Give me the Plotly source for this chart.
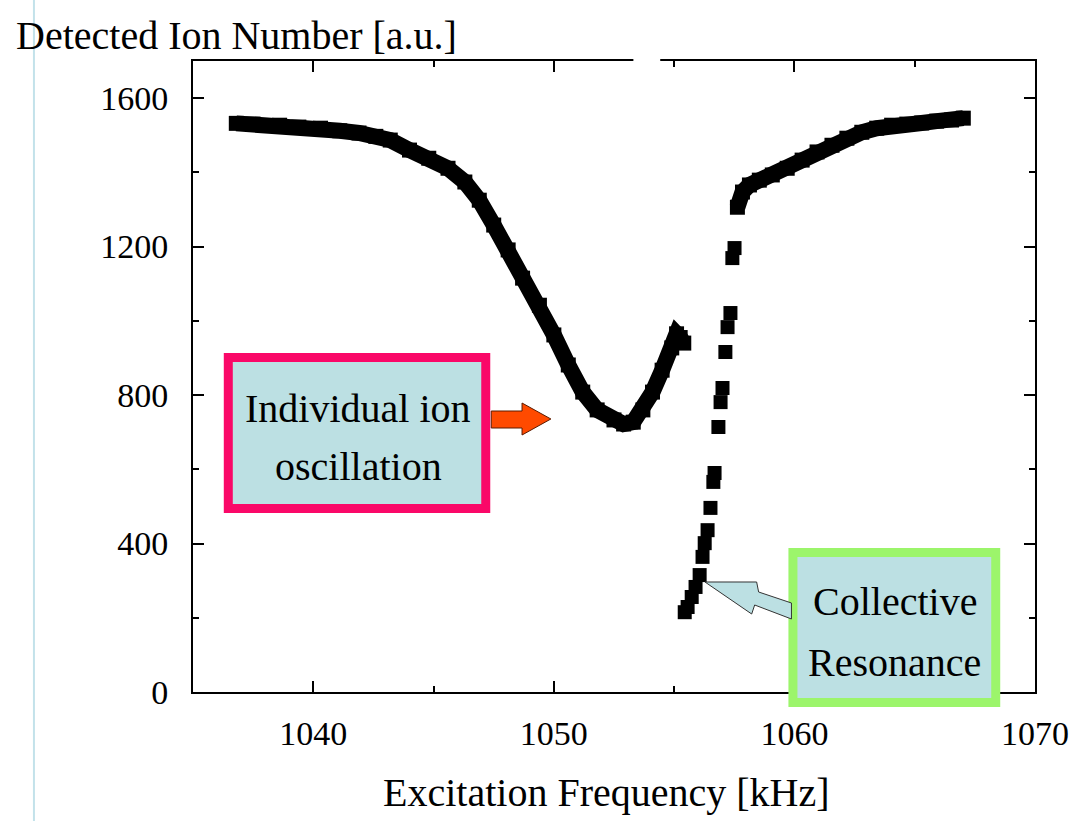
import plotly.graph_objects as go

# ---------------- data ----------------
seg1_freq = [1036.8, 1037.5, 1038.6, 1039.4, 1040.3, 1041.1, 1041.9, 1042.6, 1043.2,
             1044.0, 1044.8, 1045.6, 1046.3, 1046.9, 1047.5, 1048.1, 1048.7, 1049.4,
             1050.0, 1050.6, 1051.2, 1051.8, 1052.5, 1052.9, 1053.3, 1053.7, 1054.1,
             1054.5, 1054.9, 1055.1, 1055.25, 1055.4]
seg1_ions = [1532, 1530, 1527, 1522, 1519, 1512, 1506, 1497, 1487,
             1460, 1438, 1411, 1374, 1325, 1258, 1191, 1115, 1042,
             962, 881, 808, 760, 733, 722, 727, 760, 808,
             867, 927, 965, 955, 940]

jump_freq = [1055.44, 1055.56, 1055.73, 1055.89, 1056.06, 1056.18, 1056.27, 1056.39,
             1056.51, 1056.63, 1056.68, 1056.84, 1056.93, 1057.01, 1057.13, 1057.22,
             1057.34, 1057.42, 1057.51]
jump_ions = [215, 229, 256, 283, 315, 364, 401, 436,
             496, 566, 590, 714, 781, 819, 916, 983,
             1021, 1169, 1196]

seg3_freq = [1057.63, 1057.84, 1058.13, 1058.54, 1059.08, 1059.70, 1060.32, 1060.94,
             1061.56, 1062.18, 1062.80, 1063.42, 1064.04, 1064.67, 1065.29, 1065.91,
             1066.53, 1067.02]
seg3_ions = [1306, 1347, 1366, 1379, 1393, 1411, 1433, 1455,
             1473, 1492, 1508, 1519, 1527, 1530, 1533, 1538,
             1541, 1546]

x_range = [1035, 1070]
y_range = [0, 1700]

# ---------------- layout helpers (pixel -> paper) ----------------
L, R, T, B = 193, 1040, 61, 692
W, H = 1081, 821


def px(x):
    return (x - L) / (R - L)


def py(y):
    return (B - y) / (B - T)


def path(points):
    return "M " + " L ".join(f"{px(a):.5f},{py(b):.5f}" for a, b in points) + " Z"


FONT = "Liberation Serif, Times New Roman, serif"

fig = go.Figure()

fig.add_trace(go.Scatter(
    x=seg1_freq, y=seg1_ions, mode="lines+markers",
    line=dict(color="black", width=16),
    marker=dict(symbol="square", size=15, color="black"),
    showlegend=False, hoverinfo="skip"))
fig.add_trace(go.Scatter(
    x=jump_freq, y=jump_ions, mode="markers",
    marker=dict(symbol="square", size=14, color="black"),
    showlegend=False, hoverinfo="skip"))
fig.add_trace(go.Scatter(
    x=seg3_freq, y=seg3_ions, mode="lines+markers",
    line=dict(color="black", width=16),
    marker=dict(symbol="square", size=15, color="black"),
    showlegend=False, hoverinfo="skip"))

axis_common = dict(
    showgrid=False, zeroline=False, showline=True, linecolor="black", linewidth=2,
    mirror="allticks", ticks="inside", ticklen=11, tickwidth=2, tickcolor="black",
    tickfont=dict(family=FONT, size=34, color="black"),
)

fig.update_xaxes(range=x_range, tick0=1040, dtick=10, ticklabelstandoff=10,
                 minor=dict(ticks="inside", ticklen=6, tickwidth=2, dtick=5,
                            tick0=1035, tickcolor="black"),
                 **axis_common)
fig.update_yaxes(range=y_range, tick0=0, dtick=400, ticklabelstandoff=16,
                 minor=dict(ticks="inside", ticklen=6, tickwidth=2, dtick=200,
                            tick0=0, tickcolor="black"),
                 **axis_common)

shapes = []
# light-blue page line on the left
shapes.append(dict(type="line", xref="paper", yref="paper",
                   x0=px(33), x1=px(33), y0=py(H), y1=py(0),
                   line=dict(color="#C3E2EA", width=2), layer="above"))
# gap in the top frame line
shapes.append(dict(type="rect", xref="paper", yref="paper",
                   x0=px(636), x1=px(663), y0=py(66), y1=py(55),
                   fillcolor="white", line=dict(width=0), layer="above"))
# box 1 (individual ion oscillation)
shapes.append(dict(type="rect", xref="paper", yref="paper",
                   x0=px(228.5), x1=px(487.5), y0=py(508.5), y1=py(357.5),
                   fillcolor="#BCE0E3", line=dict(color="#FA0868", width=9),
                   layer="above"))
# box 2 (collective resonance)
shapes.append(dict(type="rect", xref="paper", yref="paper",
                   x0=px(796.5), x1=px(1000.5), y0=py(702.5), y1=py(552.5),
                   fillcolor="#BCE0E3", line=dict(color="#9CF56B", width=9),
                   layer="above"))
# red block arrow
shapes.append(dict(type="path", xref="paper", yref="paper",
                   path=path([(493, 411), (524, 411), (524, 403), (553, 419),
                              (524, 435), (524, 428), (493, 428)]),
                   fillcolor="#FF4A00", line=dict(color="#5A1A00", width=1),
                   layer="above"))
# light-blue block arrow
shapes.append(dict(type="path", xref="paper", yref="paper",
                   path=path([(708, 582), (760, 582), (762, 592), (795, 603),
                              (795, 619), (758, 605), (755, 614)]),
                   fillcolor="#BCE0E3", line=dict(color="#333333", width=1),
                   layer="above"))

annotations = []


def text(s, x, y, xanchor="center", size=40):
    annotations.append(dict(text=s, xref="paper", yref="paper", x=px(x), y=py(y),
                            xanchor=xanchor, yanchor="middle", showarrow=False,
                            font=dict(family=FONT, size=size, color="black")))


text("Detected Ion Number [a.u.]", 13, 35, xanchor="left")
text("Excitation Frequency [kHz]", 609, 792)
text("Individual ion", 359, 408)
text("oscillation", 359, 466)
text("Collective", 899, 601)
text("Resonance", 899, 662)

fig.update_layout(
    width=W, height=H,
    margin=dict(l=L, r=W - R, t=T, b=H - B, pad=0),
    paper_bgcolor="white", plot_bgcolor="white",
    shapes=shapes, annotations=annotations,
    showlegend=False,
)

fig.write_html("out.html")
